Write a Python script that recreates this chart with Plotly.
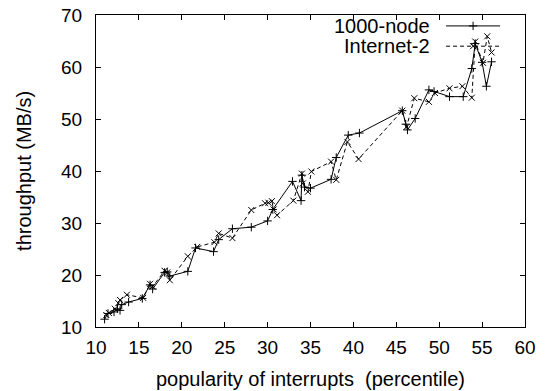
import plotly.graph_objects as go

# 1000-node series (solid line, "+" markers)
node_x = [11.0, 11.4, 12.1, 12.5, 12.8, 13.0, 13.8, 15.4, 16.3, 16.6, 18.0, 18.3, 18.6,
          20.7, 21.6, 23.7, 24.3, 25.9, 28.1, 30.0, 30.6, 32.9, 33.9, 34.0, 34.3, 35.0,
          37.4, 38.0, 39.4, 40.7, 45.7, 46.1, 46.3, 47.2, 48.8, 49.4, 51.2, 52.8, 53.8,
          54.2, 55.0, 55.5, 56.1]
node_y = [11.5, 12.6, 12.9, 13.5, 13.2, 14.3, 14.8, 15.5, 18.1, 17.3, 20.5, 20.6, 19.8,
          20.7, 25.2, 24.5, 26.8, 28.9, 29.2, 30.4, 32.6, 38.0, 34.3, 39.2, 36.9, 36.7,
          38.4, 42.6, 46.9, 47.3, 51.6, 49.0, 47.9, 50.1, 55.6, 55.3, 54.3, 54.3, 59.7,
          64.5, 60.9, 56.3, 61.0]

# Internet-2 series (dashed line, "x" markers)
inet_x = [11.2, 11.5, 12.2, 12.6, 12.8, 13.6, 15.5, 16.3, 16.6, 18.0, 18.3, 18.6, 20.7,
          21.8, 23.8, 24.3, 25.9, 28.1, 29.7, 30.1, 30.5, 30.7, 31.1, 33.0, 34.0, 34.1,
          34.7, 35.1, 37.4, 38.0, 39.3, 40.6, 45.7, 46.2, 47.1, 48.8, 49.5, 51.2, 52.7,
          53.8, 54.2, 55.1, 55.6, 56.1]
inet_y = [12.3, 12.7, 13.5, 14.6, 15.2, 16.2, 15.6, 18.3, 17.8, 20.8, 20.5, 19.0, 23.6,
          25.4, 26.3, 28.0, 27.1, 32.5, 33.8, 33.9, 34.2, 32.6, 31.5, 34.3, 39.5, 37.6,
          36.0, 39.9, 41.8, 38.3, 45.6, 42.3, 51.6, 48.5, 54.0, 53.3, 55.0, 55.9, 56.3,
          54.1, 64.9, 60.8, 65.9, 62.8]

x_ticks = [10, 15, 20, 25, 30, 35, 40, 45, 50, 55, 60]
y_ticks = [10, 20, 30, 40, 50, 60, 70]
series_names = ["1000-node", "Internet-2"]
x_title = "popularity of interrupts  (percentile)"
y_title = "throughput (MB/s)"

FONT = "Liberation Sans, Arial, Helvetica, sans-serif"
FS_TICK = 19
FS_TEXT = 20

fig = go.Figure()
fig.add_trace(go.Scatter(
    x=node_x, y=node_y, mode="lines+markers", name=series_names[0],
    line=dict(color="black", width=1),
    marker=dict(symbol="cross-thin", size=6, line=dict(color="black", width=1)),
))
fig.add_trace(go.Scatter(
    x=inet_x, y=inet_y, mode="lines+markers", name=series_names[1],
    line=dict(color="black", width=1, dash="4px,3px"),
    marker=dict(symbol="x-thin", size=6, line=dict(color="black", width=1)),
))

# legend samples on an overlay axis in plot-fraction units
leg_x = [0.816, 0.942]
leg_y = [0.965, 0.90]
fig.add_trace(go.Scatter(
    x=leg_x, y=[leg_y[0]] * 2, xaxis="x2", yaxis="y2", mode="lines",
    line=dict(color="black", width=1), showlegend=False, hoverinfo="skip"))
fig.add_trace(go.Scatter(
    x=[sum(leg_x) / 2], y=[leg_y[0]], xaxis="x2", yaxis="y2", mode="markers",
    marker=dict(symbol="cross-thin", size=6, line=dict(color="black", width=1)),
    showlegend=False, hoverinfo="skip"))
fig.add_trace(go.Scatter(
    x=leg_x, y=[leg_y[1]] * 2, xaxis="x2", yaxis="y2", mode="lines",
    line=dict(color="black", width=1, dash="4px,3px"), showlegend=False, hoverinfo="skip"))
fig.add_trace(go.Scatter(
    x=[sum(leg_x) / 2], y=[leg_y[1]], xaxis="x2", yaxis="y2", mode="markers",
    marker=dict(symbol="x-thin", size=6, line=dict(color="black", width=1)),
    showlegend=False, hoverinfo="skip"))

axis_common = dict(
    showline=True, linecolor="black", linewidth=1, mirror="ticks",
    ticks="inside", ticklen=5, tickwidth=1, tickcolor="black",
    showgrid=False, zeroline=False, automargin=False,
    tickfont=dict(family=FONT, size=FS_TICK, color="black"),
)

fig.update_layout(
    width=551, height=391,
    margin=dict(l=96, r=26, t=15, b=64, autoexpand=False),
    paper_bgcolor="white", plot_bgcolor="white",
    showlegend=False,
    xaxis=dict(range=[10, 60], tickvals=x_ticks, ticklabelstandoff=3, **axis_common),
    yaxis=dict(range=[10, 70], tickvals=y_ticks, ticklabelstandoff=9, **axis_common),
    xaxis2=dict(range=[0, 1], overlaying="x", visible=False, anchor="y2"),
    yaxis2=dict(range=[0, 1], overlaying="y", visible=False, anchor="x2"),
    annotations=[
        dict(text=x_title, xref="paper", yref="paper", x=0.499, y=-0.2051,
             xanchor="center", yanchor="bottom", showarrow=False, borderpad=0,
             font=dict(family=FONT, size=FS_TEXT, color="black")),
        dict(text=y_title, xref="paper", yref="paper", x=-0.168, y=0.5,
             xanchor="center", yanchor="middle", textangle=-90, showarrow=False,
             font=dict(family=FONT, size=FS_TEXT, color="black")),
        dict(text=series_names[0], xref="paper", yref="paper", x=0.783, y=leg_y[0],
             xanchor="right", yanchor="middle", showarrow=False,
             font=dict(family=FONT, size=FS_TEXT, color="black")),
        dict(text=series_names[1], xref="paper", yref="paper", x=0.783, y=leg_y[1],
             xanchor="right", yanchor="middle", showarrow=False,
             font=dict(family=FONT, size=FS_TEXT, color="black")),
    ],
)

fig.write_html("out.html")
